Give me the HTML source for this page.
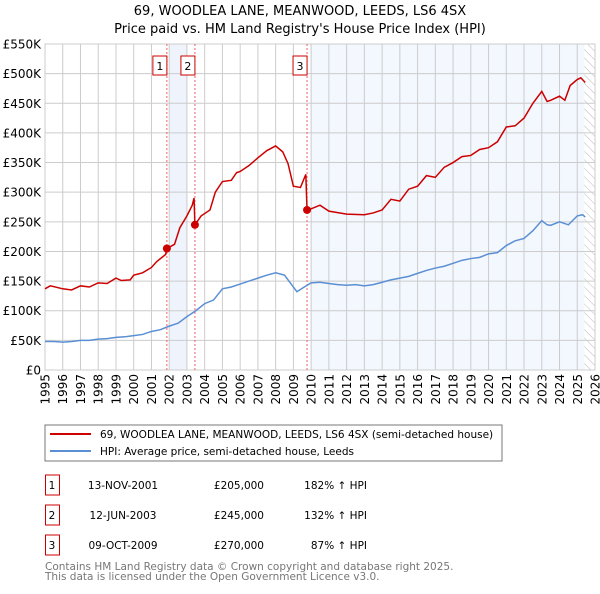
<!DOCTYPE html>
<html><head><meta charset="utf-8"><style>
body{margin:0;background:#fff;font-family:"DejaVu Sans","Liberation Sans",sans-serif;}
svg text{font-family:"DejaVu Sans","Liberation Sans",sans-serif;}
</style></head><body>
<svg id="c" width="600" height="590" xmlns="http://www.w3.org/2000/svg">
<defs><pattern id="hatch" width="6" height="6" patternUnits="userSpaceOnUse" patternTransform="rotate(-45)"><line x1="0" y1="0" x2="0" y2="6" stroke="#bbb" stroke-width="1"/></pattern></defs>
<text x="300" y="15" text-anchor="middle" font-size="13">69, WOODLEA LANE, MEANWOOD, LEEDS, LS6 4SX</text>
<text x="300" y="33" text-anchor="middle" font-size="13">Price paid vs. HM Land Registry's House Price Index (HPI)</text>
<g id="plot"></g>
<rect x="45" y="425" width="457" height="36" fill="#fff" stroke="#777"/>
<line x1="50" y1="434" x2="91" y2="434" stroke="#cc0000" stroke-width="2"/>
<text x="100" y="438" font-size="10.5">69, WOODLEA LANE, MEANWOOD, LEEDS, LS6 4SX (semi-detached house)</text>
<line x1="50" y1="451" x2="91" y2="451" stroke="#5b8fd4" stroke-width="2"/>
<text x="100" y="455" font-size="10.5">HPI: Average price, semi-detached house, Leeds</text>
<g font-size="10.5" id="tbl"></g>
<text x="45" y="570" font-size="10.5" fill="#777">Contains HM Land Registry data © Crown copyright and database right 2025.</text>
<text x="45" y="580" font-size="10.5" fill="#777">This data is licensed under the Open Government Licence v3.0.</text>
</svg>
<script>
const hpiYears=[1995,1995.5,1996,1996.5,1997,1997.5,1998,1998.5,1999,1999.5,2000,2000.5,2001,2001.5,2002,2002.5,2003,2003.5,2004,2004.5,2005,2005.5,2006,2006.5,2007,2007.5,2008,2008.5,2009,2009.2,2009.5,2010,2010.5,2011,2011.5,2012,2012.5,2013,2013.5,2014,2014.5,2015,2015.5,2016,2016.5,2017,2017.5,2018,2018.5,2019,2019.5,2020,2020.5,2021,2021.5,2022,2022.5,2023,2023.3,2023.5,2024,2024.5,2025,2025.3,2025.45];
const hpiValues=[48,48,47,48,50,50,52,53,55,56,58,60,65,68,74,79,90,100,112,118,137,140,145,150,155,160,164,160,140,132,138,147,148,146,144,143,144,142,144,148,152,155,158,163,168,172,175,180,185,188,190,196,198,210,218,222,235,252,245,244,250,245,260,262,258];
const priceYears=[1995,1995.3,1996,1996.5,1997,1997.5,1998,1998.5,1999,1999.3,1999.8,2000,2000.5,2001,2001.3,2001.8,2001.87,2002.3,2002.6,2003,2003.3,2003.4,2003.45,2003.8,2004.3,2004.6,2005,2005.5,2005.8,2006,2006.5,2007,2007.5,2008,2008.4,2008.7,2009,2009.4,2009.7,2009.77,2010,2010.5,2011,2012,2013,2013.5,2014,2014.5,2015,2015.5,2016,2016.5,2017,2017.5,2018,2018.5,2019,2019.5,2020,2020.5,2021,2021.5,2022,2022.5,2023,2023.3,2023.5,2024,2024.3,2024.6,2025,2025.2,2025.45];
const priceValues=[137,142,137,135,142,140,147,146,155,151,152,160,164,173,183,195,205,212,240,260,278,290,245,260,270,300,318,320,333,335,345,358,370,378,368,348,310,308,330,270,272,278,268,263,262,265,270,288,285,305,310,328,325,342,350,360,362,372,375,385,410,412,425,450,470,453,455,462,455,480,490,493,485];
const saleYears=[2001.87,2003.45,2009.77];
const saleValues=[205,245,270];
const saleLabels=["1","2","3"];
const saleDates=["13-NOV-2001","12-JUN-2003","09-OCT-2009"];
const salePrices=["£205,000","£245,000","£270,000"];
const saleHpi=["182% ↑ HPI","132% ↑ HPI","87% ↑ HPI"];
const yTicks=[0,50,100,150,200,250,300,350,400,450,500,550];
const yTickLabels=["£0","£50K","£100K","£150K","£200K","£250K","£300K","£350K","£400K","£450K","£500K","£550K"];
const xTicks=[1995,1996,1997,1998,1999,2000,2001,2002,2003,2004,2005,2006,2007,2008,2009,2010,2011,2012,2013,2014,2015,2016,2017,2018,2019,2020,2021,2022,2023,2024,2025,2026];

const L=45,R=595,T=44,B=370;
const x=y=>L+(y-1995)/(2026-1995)*(R-L);
const yv=v=>B-v/550*(B-T);
const NS="http://www.w3.org/2000/svg";
const g=document.getElementById('plot');
function mk(t,a,p){const e=document.createElementNS(NS,t);for(const k in a)e.setAttribute(k,a[k]);(p||g).appendChild(e);return e;}

let e=mk('rect',{x:x(2002),y:T,width:x(2003)-x(2002),height:B-T,fill:'#eef3fc'});


e=mk('rect',{x:x(2010),y:T,width:x(2025.4)-x(2010),height:B-T,fill:'#f3f7fe'});


e=mk('rect',{x:x(2025.4),y:T,width:R-x(2025.4),height:B-T,fill:'url(#hatch)'});



yTicks.forEach((v,i)=>{
  const l=mk('line',{x1:L,x2:R,y1:yv(v),y2:yv(v),stroke:'#ccc','stroke-width':1});
  
  
  const t=mk('text',{x:41,y:yv(v)+4.5,'text-anchor':'end','font-size':12});
  
  
  t.textContent=yTickLabels[i];
});
xTicks.forEach(yr=>{
  const l=mk('line',{x1:x(yr),x2:x(yr),y1:T,y2:B,stroke:'#ccc','stroke-width':1});
  
  
  const t=mk('text',{x:0,y:0,'text-anchor':'end','font-size':12,transform:`translate(${x(yr)+4.5},374) rotate(-90)`});
  
  
  t.textContent=yr;
});
e=mk('rect',{x:L,y:T,width:R-L,height:B-T,fill:'none',stroke:'#ccc'});



saleYears.forEach((yr,i)=>{
  const l=mk('line',{x1:x(yr),x2:x(yr),y1:T,y2:B,stroke:'#f06060','stroke-width':1,'stroke-dasharray':'2,2'});
  
  
  const r=mk('rect',{x:x(yr)-14,y:56,width:14,height:19,fill:'#fff',stroke:'#cc0000'});
  
  
  const t=mk('text',{x:x(yr)-7,y:70,'text-anchor':'middle','font-size':11});
  
  
  t.textContent=saleLabels[i];
});

e=mk('polyline',{points:hpiYears.map((yr,i)=>x(yr)+','+yv(hpiValues[i])).join(' '),fill:'none',stroke:'#5b8fd4','stroke-width':1.5});


e=mk('polyline',{points:priceYears.map((yr,i)=>x(yr)+','+yv(priceValues[i])).join(' '),fill:'none',stroke:'#cc0000','stroke-width':1.5});


saleYears.forEach((yr,i)=>{
  const c=mk('circle',{cx:x(yr),cy:yv(saleValues[i]),r:4,fill:'#cc0000'});
  
  
});

const tb=document.getElementById('tbl');
saleLabels.forEach((lb,i)=>{
  const y0=475+i*30;
  const r=mk('rect',{x:45.5,y:y0,width:14,height:20,fill:'#fff',stroke:'#cc0000'},tb);
  
  
  const cols=[[52,lb,'middle'],[123,saleDates[i],'middle'],[264,salePrices[i],'end'],[367,saleHpi[i],'end']];
  cols.forEach(([cx,txt,an],j)=>{
    const t=mk('text',{x:cx,y:y0+14,'text-anchor':an},tb);
    
    
    t.textContent=txt;
  });
});
</script>
</body></html>
